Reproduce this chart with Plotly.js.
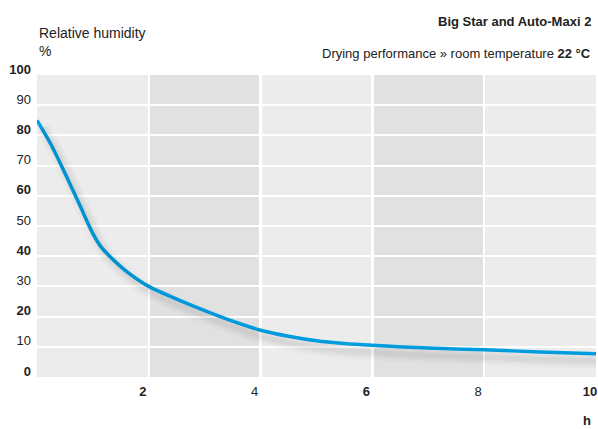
<!DOCTYPE html>
<html>
<head>
<meta charset="utf-8">
<script src="https://cdn.plot.ly/plotly-3.0.1.min.js"></script>
<style>html,body{margin:0;padding:0;background:#fff;}#chart{width:598px;height:429px;}</style>
</head>
<body>
<div id="chart"></div>
<script>
// Data
const hours = [0, 0.25, 0.5, 0.75, 1.0, 1.15, 1.3, 1.6, 2, 2.5, 3, 3.5, 4, 4.5, 5, 5.5, 6, 7, 8, 9, 10];
const humidity = [85, 77, 67.5, 57.5, 47.5, 43, 40, 35, 30, 25.8, 22, 18.5, 15.5, 13.5, 12, 11.1, 10.5, 9.6, 9.0, 8.3, 7.7];

const yTickVals = [0, 10, 20, 30, 40, 50, 60, 70, 80, 90, 100];
const yTickText = ['<b>0</b>', '10', '<b>20</b>', '30', '<b>40</b>', '50', '<b>60</b>', '70', '<b>80</b>', '90', '<b>100</b>'];
const xTickVals = [2, 4, 6, 8, 10];
const xTickText = ['<b>2</b>', '4', '<b>6</b>', '8', '<b>10</b>'];
const shadedBands = [[2, 4], [6, 8]];

const FONT = '"Liberation Sans", Arial, sans-serif';

const shadowLine = (w, c) => ({
  x: hours, y: humidity, type: 'scatter', mode: 'lines', xaxis: 'x2', yaxis: 'y2',
  line: {color: c, width: w, shape: 'spline', smoothing: 0.9}, hoverinfo: 'skip'
});

const traces = [
  shadowLine(16, 'rgba(0,0,0,0.02)'),
  shadowLine(10, 'rgba(0,0,0,0.03)'),
  shadowLine(5, 'rgba(0,0,0,0.035)'),
  {
    x: hours, y: humidity, type: 'scatter', mode: 'lines',
    line: {color: '#009fe3', width: 3.5, shape: 'spline', smoothing: 0.9},
    hoverinfo: 'skip'
  }
];

const layout = {
  width: 598, height: 429,
  margin: {l: 37, r: 2, t: 75, b: 52},
  paper_bgcolor: '#ffffff',
  plot_bgcolor: '#ebeceb',
  showlegend: false,
  font: {family: FONT, size: 13, color: '#222'},
  xaxis: {
    range: [0, 10], tickvals: xTickVals, ticktext: xTickText,
    showgrid: true, gridcolor: '#ffffff', gridwidth: 2.5,
    zeroline: false, showline: false, ticks: '',
    tickfont: {family: FONT, size: 13, color: '#222'},
    ticklabelshift: -6, ticklabelstandoff: 5, ticklabeloverflow: 'allow', fixedrange: true
  },
  yaxis: {
    range: [0, 100], tickvals: yTickVals, ticktext: yTickText,
    showgrid: true, gridcolor: '#ffffff', gridwidth: 2,
    zeroline: false, showline: false, ticks: '',
    tickfont: {family: FONT, size: 13, color: '#222'},
    ticklabelshift: -6, ticklabelstandoff: 5, ticklabeloverflow: 'allow', fixedrange: true
  },
  xaxis2: {overlaying: 'x', range: [-0.1, 9.9], visible: false, fixedrange: true},
  yaxis2: {overlaying: 'y', range: [2.5, 102.5], visible: false, fixedrange: true},
  shapes: shadedBands.map(b => ({
    type: 'rect', xref: 'x', yref: 'paper', x0: b[0], x1: b[1], y0: 0, y1: 1,
    fillcolor: '#e0e1e0', line: {width: 0}, layer: 'below'
  })),
  annotations: [
    {text: 'Relative humidity<br>%', xref: 'paper', yref: 'paper', x: 0, y: 1, xanchor: 'left', yanchor: 'bottom',
     yshift: 14, align: 'left', showarrow: false, font: {family: FONT, size: 14, color: '#222'}},
    {text: '<b>Big Star and Auto-Maxi 2</b>', xref: 'paper', yref: 'paper', x: 1, y: 1, xanchor: 'right', yanchor: 'middle',
     yshift: 54, xshift: -3, showarrow: false, font: {family: FONT, size: 13, color: '#222'}},
    {text: 'Drying performance » room temperature <b>22 °C</b>', xref: 'paper', yref: 'paper', x: 1, y: 1, xanchor: 'right', yanchor: 'middle',
     yshift: 22, xshift: -3, showarrow: false, font: {family: FONT, size: 13, color: '#222'}},
    {text: '<b>h</b>', xref: 'paper', yref: 'paper', x: 1, y: 0, xanchor: 'right', yanchor: 'middle',
     yshift: -43, xshift: -3, showarrow: false, font: {family: FONT, size: 13, color: '#222'}}
  ]
};

Plotly.newPlot('chart', traces, layout, {staticPlot: true, displayModeBar: false});
</script>
</body>
</html>
